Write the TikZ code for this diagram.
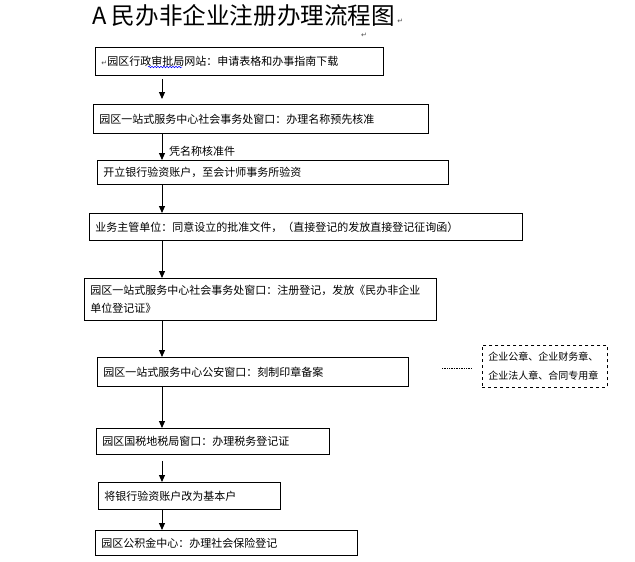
\documentclass[tikz,border=0pt]{standalone}
\usepackage{fontspec}
\newfontfamily\cjk{Noto Sans CJK SC}
\newfontfamily\dv{DejaVu Sans}
\usetikzlibrary{arrows.meta,decorations.pathmorphing}
\newcommand\retmark{{\dv\fontsize{7}{7}\selectfont\textcolor{black!70}{↵}}}
\begin{document}
\begin{tikzpicture}[x=1pt,y=-1pt,
  box/.style={draw, line width=0.9pt, anchor=north west, inner xsep=6pt, inner ysep=0pt,
    align=left, font=\cjk\fontsize{11}{18}\selectfont},
  dbox/.style={draw, dashed, line width=0.9pt, anchor=north west, inner xsep=6pt, inner ysep=0pt,
    align=left, font=\cjk\fontsize{10}{19}\selectfont},
  arr/.style={line width=0.9pt, -{Triangle[length=7pt,width=6pt]}},
  lbl/.style={inner sep=0pt, font=\cjk\fontsize{11}{13}\selectfont}]
\useasboundingbox (0,0) rectangle (635,562);
\fill[white] (0,0) rectangle (635,562);
% title
\node[inner sep=0pt, anchor=west, font=\cjk\fontsize{23.6}{26}\selectfont] (title) at (92,15) {A 民办非企业注册办理流程图};
\node[inner sep=0pt, anchor=west] (tret) at ([xshift=2pt,yshift=-6pt]title.east) {\retmark};
\node[inner sep=0pt] (sret) at (364,35) {\retmark};
% boxes
\node[box, minimum height=28pt, text width=276pt] (b1) at (95,47) {\retmark 园区行政审批局网站：申请表格和办事指南下载};
\node[box, minimum height=29pt, text width=323pt] (b2) at (93,104) {园区一站式服务中心社会事务处窗口：办理名称预先核准};
\node[box, minimum height=24pt, text width=339pt] (b3) at (97,160) {开立银行验资账户，至会计师事务所验资};
\node[box, minimum height=27pt, text width=421pt] (b4) at (89,213) {业务主管单位：同意设立的批准文件，（直接登记的发放直接登记征询函）};
\node[box, minimum height=42pt, text width=340pt] (b5) at (84,278) {园区一站式服务中心社会事务处窗口：注册登记，发放《民办非企业\\单位登记证》};
\node[box, minimum height=29pt, text width=299pt] (b6) at (97,357) {园区一站式服务中心公安窗口：刻制印章备案};
\node[dbox, minimum height=42pt, text width=113pt] (note) at (482,345) {企业公章、企业财务章、\\企业法人章、合同专用章};
\node[box, minimum height=26pt, text width=221pt] (b7) at (96,428) {园区国税地税局窗口：办理税务登记证};
\node[box, minimum height=27pt, text width=170pt] (b8) at (98,482) {将银行验资账户改为基本户};
\node[box, minimum height=25pt, text width=250pt] (b9) at (95,530) {园区公积金中心：办理社会保险登记};
% spell-check underline
\draw[blue, line width=0.5pt, decorate, decoration={snake, segment length=3pt, amplitude=0.8pt}] (148,67) -- (182,67);
% arrows
\coordinate (ax) at (162,0);
\draw[arr] ([yshift=-3pt]b1.south -| ax) -- ([yshift=5pt]b2.north -| ax);
\draw[arr] (b2.south -| ax) -- (b3.north -| ax);
\node[lbl, anchor=west] (l2) at (169,151) {凭名称核准件};
\draw[arr] (b3.south -| ax) -- (b4.north -| ax);
\draw[arr] (b4.south -| ax) -- (b5.north -| ax);
\draw[arr] (b5.south -| ax) -- (b6.north -| ax);
\draw[arr] (b6.south -| ax) -- (b7.north -| ax);
\draw[arr] ([yshift=-6pt]b7.south -| ax) -- (b8.north -| ax);
\draw[arr] (b8.south -| ax) -- (b9.north -| ax);
% dotted link to note
\coordinate (d1) at (442,368);
\coordinate (d2) at (471,368);
\draw[densely dotted, line width=0.7pt] (d1) -- (d2);
\end{tikzpicture}
\end{document}
